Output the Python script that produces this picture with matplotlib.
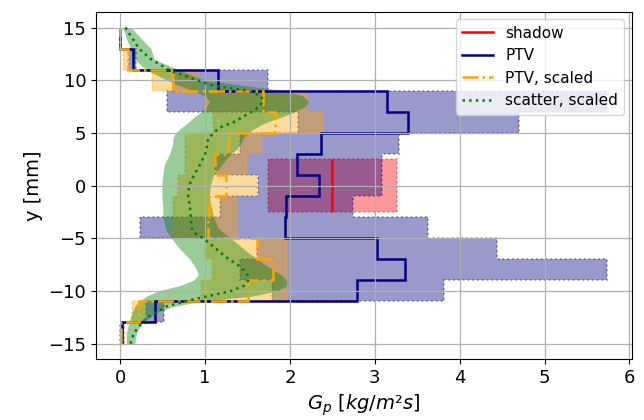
import numpy as np
import matplotlib
matplotlib.use("Agg")
import matplotlib.pyplot as plt
from matplotlib.lines import Line2D

# 2 mm bins along y, listed from bottom (-14) to top (+14)
bin_edges = [-15, -13, -11, -9, -7, -5, -3, -1, 1, 3, 5, 7, 9, 11, 13, 15]

# shadow measurement (single bin)
shadow_edges = [-2.5, 2.5]
shadow_val = [2.50]
shadow_lo = [1.74]
shadow_hi = [3.26]

# PTV flux per bin
ptv_val = [0.02, 0.41, 2.79, 3.35, 3.02, 1.94, 1.95, 2.34, 2.08, 2.36, 3.39, 3.14, 1.15, 0.15, 0.00]
ptv_lo = [0.00, 0.30, 1.79, 1.41, 1.61, 0.23, 1.17, 1.62, 1.12, 1.41, 2.09, 0.55, 0.62, 0.10, 0.00]
ptv_hi = [0.04, 0.52, 3.81, 5.74, 4.44, 3.63, 2.74, 3.08, 3.08, 3.28, 4.70, 5.74, 1.74, 0.19, 0.01]

# PTV flux after scaling
ptvs_val = [0.01, 0.22, 1.50, 1.80, 1.61, 1.03, 1.04, 1.25, 1.11, 1.27, 1.82, 1.68, 0.62, 0.09, 0.00]
ptvs_lo = [0.00, 0.14, 0.95, 1.08, 1.00, 0.62, 0.62, 0.68, 0.76, 0.76, 1.09, 1.00, 0.37, 0.03, 0.00]
ptvs_hi = [0.02, 0.30, 1.96, 1.96, 1.96, 1.38, 1.38, 1.61, 1.49, 1.67, 2.39, 2.21, 0.92, 0.10, 0.01]

# scattered-light profile after scaling (fine y grid)
sc_y = [15, 14, 13, 12, 11, 10, 9.5, 9, 8.5, 8, 7.5, 7, 6.5, 6, 5.5, 5, 4.5, 4, 3.5, 3,
        2, 1, 0, -1, -2, -3, -4, -4.5, -5, -5.5, -6, -6.5, -7, -7.5, -8, -8.5, -9, -9.5,
        -10, -10.5, -11, -11.5, -12, -12.5, -13, -14, -15]
sc_val = [0.06, 0.14, 0.22, 0.36, 0.57, 0.90, 1.09, 1.50, 1.66, 1.68, 1.64, 1.55, 1.44, 1.33,
          1.17, 1.10, 1.04, 1.02, 1.02, 1.00, 0.94, 0.87, 0.81, 0.80, 0.82, 0.83, 0.84, 0.87,
          0.98, 1.05, 1.13, 1.20, 1.28, 1.38, 1.45, 1.50, 1.51, 1.46, 1.31, 1.03, 0.76, 0.54,
          0.43, 0.32, 0.26, 0.16, 0.12]
sc_lo = [0.03, 0.07, 0.12, 0.17, 0.30, 0.55, 0.70, 0.85, 1.00, 1.05, 1.02, 0.95, 0.87, 0.80,
         0.72, 0.65, 0.62, 0.62, 0.60, 0.58, 0.52, 0.50, 0.49, 0.49, 0.50, 0.50, 0.53, 0.56,
         0.60, 0.65, 0.70, 0.76, 0.82, 0.86, 0.90, 0.92, 0.86, 0.70, 0.45, 0.31, 0.22, 0.17,
         0.14, 0.12, 0.10, 0.07, 0.07]
sc_hi = [0.13, 0.24, 0.36, 0.40, 0.68, 1.00, 1.45, 1.95, 2.15, 2.22, 2.18, 2.05, 1.90, 1.72,
         1.60, 1.50, 1.45, 1.42, 1.38, 1.30, 1.20, 1.10, 1.06, 1.05, 1.07, 1.10, 1.15, 1.22,
         1.30, 1.38, 1.45, 1.53, 1.62, 1.70, 1.80, 1.90, 1.96, 1.96, 1.85, 1.55, 0.95, 0.62,
         0.45, 0.35, 0.26, 0.19, 0.17]

labels = ["shadow", "PTV", "PTV, scaled", "scatter, scaled"]
colors = ["red", "navy", "orange", "green"]
line_styles = ["-", "-", "-.", ":"]
LW = 1.8

fig = plt.figure(figsize=(6.44, 4.20), dpi=100)
ax = fig.add_axes([0.149, 0.1445, 0.832, 0.8275])
ax.use_sticky_edges = False


def band(hi, edges, lo, c):
    ax.stairs(hi, edges, baseline=lo, fill=True, orientation="horizontal",
              facecolor=c, edgecolor=c, alpha=0.4, linestyle=":", linewidth=1.3)


# uncertainty bands
band(shadow_hi, shadow_edges, shadow_lo, colors[0])
band(ptv_hi, bin_edges, ptv_lo, colors[1])
band(ptvs_hi, bin_edges, ptvs_lo, colors[2])
ax.fill_betweenx(sc_y, sc_lo, sc_hi, color=colors[3], alpha=0.4, linewidth=0)

# profiles
ax.stairs(shadow_val, shadow_edges, baseline=None, orientation="horizontal",
          color=colors[0], linewidth=LW)
ax.stairs(ptv_val, bin_edges, baseline=None, orientation="horizontal",
          color=colors[1], linewidth=LW)
ax.stairs(ptvs_val, bin_edges, baseline=None, orientation="horizontal",
          color=colors[2], linewidth=LW, linestyle="-.")
ax.plot(sc_val, sc_y, color=colors[3], linewidth=LW, linestyle=":")

ax.autoscale_view()
ax.grid(True, color="#b0b0b0", linewidth=0.9)
ax.tick_params(labelsize=13)
ax.set_xlabel(r"$G_p\ [kg/m²s]$", fontsize=14)
ax.set_ylabel("y [mm]", fontsize=14)

leg_handles = [Line2D([], [], color=c, linewidth=LW, linestyle=s)
               for c, s in zip(colors, line_styles)]
ax.legend(leg_handles, labels, loc="upper right", fontsize=11)

fig.savefig("out.png", dpi=100)
